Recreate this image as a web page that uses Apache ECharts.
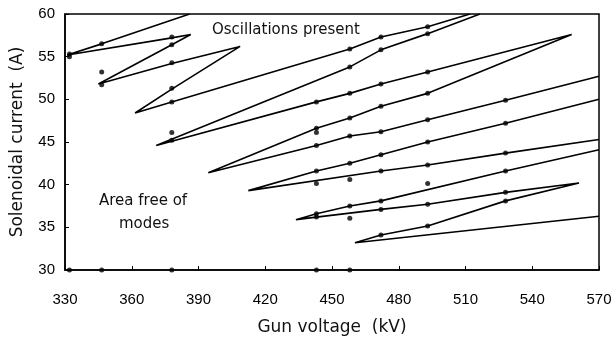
<!DOCTYPE html>
<html>
<head>
<meta charset="utf-8">
<script src="https://cdn.jsdelivr.net/npm/echarts@6/dist/echarts.min.js"></script>
<style>
  html, body { margin: 0; padding: 0; background: #fff; }
  #main { width: 615px; height: 341px; }
</style>
</head>
<body>
<div id="main"></div>
<script>
// axis ranges / ticks
var xMin = 330, xMax = 570, xStep = 30;
var yMin = 30, yMax = 60, yStep = 5;

// mode boundary lines (gun voltage kV, solenoidal current A)
var boundaryA = [[386, 60], [346.5, 56.5], [331, 55.2], [378, 57.2], [386.5, 57.6], [378, 56.4],
  [345, 51.8], [378, 54.2], [408.7, 56.2], [378, 51.2], [361.5, 48.4], [378, 49.7],
  [458, 55.9], [472, 57.3], [493, 58.5], [512, 60]];
var boundaryB = [[516.5, 60], [493, 57.7], [472, 55.8], [458, 53.8], [371, 44.6], [443, 49.7],
  [458, 50.7], [472, 51.8], [493, 53.2], [557.7, 57.6], [493, 50.7], [472, 49.2], [458, 47.8],
  [443, 46.6], [394.4, 41.4], [443, 44.6], [458, 45.7], [472, 46.2], [493, 47.6], [528, 49.9],
  [570, 52.7]];
var boundaryC = [[570, 50.0], [528, 47.2], [493, 45.0], [472, 43.5], [458, 42.5], [443, 41.6],
  [412.4, 39.3], [472, 41.6], [493, 42.3], [528, 43.7], [570, 45.3]];
var boundaryD = [[570, 44.1], [528, 41.6], [472, 38.1], [458, 37.5], [443, 36.6], [433.8, 35.9],
  [443, 36.2], [472, 37.1], [493, 37.7], [528, 39.1], [561, 40.2], [528, 38.1], [493, 35.15],
  [472, 34.1], [460.3, 33.2], [570, 36.3]];

// measured points
var measured = [
  [332, 55.0], [332, 55.3], [332, 30],
  [346.5, 56.5], [346.5, 53.2], [346.5, 51.7], [346.5, 30],
  [378, 57.3], [378, 56.4], [378, 54.3], [378, 51.3], [378, 49.7], [378, 46.1], [378, 45.2], [378, 30],
  [443, 49.7], [443, 46.6], [443, 46.1], [443, 44.6], [443, 41.6], [443, 40.15], [443, 36.6], [443, 36.2], [443, 30],
  [458, 55.9], [458, 53.8], [458, 50.7], [458, 47.8], [458, 45.7], [458, 42.5], [458, 40.6], [458, 37.5], [458, 36.05], [458, 30],
  [472, 57.3], [472, 55.8], [472, 51.8], [472, 49.2], [472, 46.2], [472, 43.5], [472, 41.6], [472, 38.1], [472, 37.1], [472, 34.1],
  [493, 58.5], [493, 57.7], [493, 53.2], [493, 50.7], [493, 47.6], [493, 45.0], [493, 42.3], [493, 40.15], [493, 37.7], [493, 35.15],
  [528, 49.9], [528, 47.2], [528, 43.7], [528, 41.6], [528, 39.1], [528, 38.1]
];

var font = 'DejaVu Sans';
var numFont = 'Liberation Sans';
var chart = echarts.init(document.getElementById('main'));

function boundary(data) {
  return {
    type: 'line',
    data: data,
    symbol: 'none',
    clip: true,
    lineStyle: { color: '#000', width: 1.6 },
    animation: false
  };
}

chart.setOption({
  backgroundColor: '#fff',
  animation: false,
  grid: {
    left: 65, right: 16, top: 14, bottom: 71,
    show: true, borderColor: '#000', borderWidth: 1.5
  },
  xAxis: {
    type: 'value',
    min: xMin, max: xMax, interval: xStep,
    name: 'Gun voltage  (kV)',
    nameLocation: 'middle',
    nameGap: 49,
    nameTextStyle: { fontFamily: font, fontSize: 17, color: '#111' },
    axisLine: { show: true, lineStyle: { color: '#000', width: 1.5 } },
    axisTick: { show: true, inside: true, length: 4, lineStyle: { color: '#000' } },
    axisLabel: { fontFamily: numFont, fontSize: 15, color: '#000', margin: 22 },
    splitLine: { show: false }
  },
  yAxis: {
    type: 'value',
    min: yMin, max: yMax, interval: yStep,
    name: 'Solenoidal current  (A)',
    nameLocation: 'middle',
    nameGap: 39,
    nameTextStyle: { fontFamily: font, fontSize: 17, color: '#111' },
    axisLine: { show: true, lineStyle: { color: '#000', width: 1.5 } },
    axisTick: { show: true, inside: true, length: 4, lineStyle: { color: '#000' } },
    axisLabel: { fontFamily: numFont, fontSize: 15, color: '#000', margin: 10 },
    splitLine: { show: false }
  },
  graphic: [
    { type: 'text', left: 212, top: 23,
      style: { text: 'Oscillations present', font: '15px "DejaVu Sans"', fill: '#111' } },
    { type: 'text', left: 99, top: 194,
      style: { text: 'Area free of', font: '15px "DejaVu Sans"', fill: '#111' } },
    { type: 'text', left: 119, top: 217,
      style: { text: 'modes', font: '15px "DejaVu Sans"', fill: '#111' } }
  ],
  series: [
    boundary(boundaryA),
    boundary(boundaryB),
    boundary(boundaryC),
    boundary(boundaryD),
    {
      type: 'scatter',
      data: measured,
      symbol: 'circle',
      symbolSize: 5,
      itemStyle: { color: '#000' },
      clip: false
    }
  ]
});
</script>
</body>
</html>
